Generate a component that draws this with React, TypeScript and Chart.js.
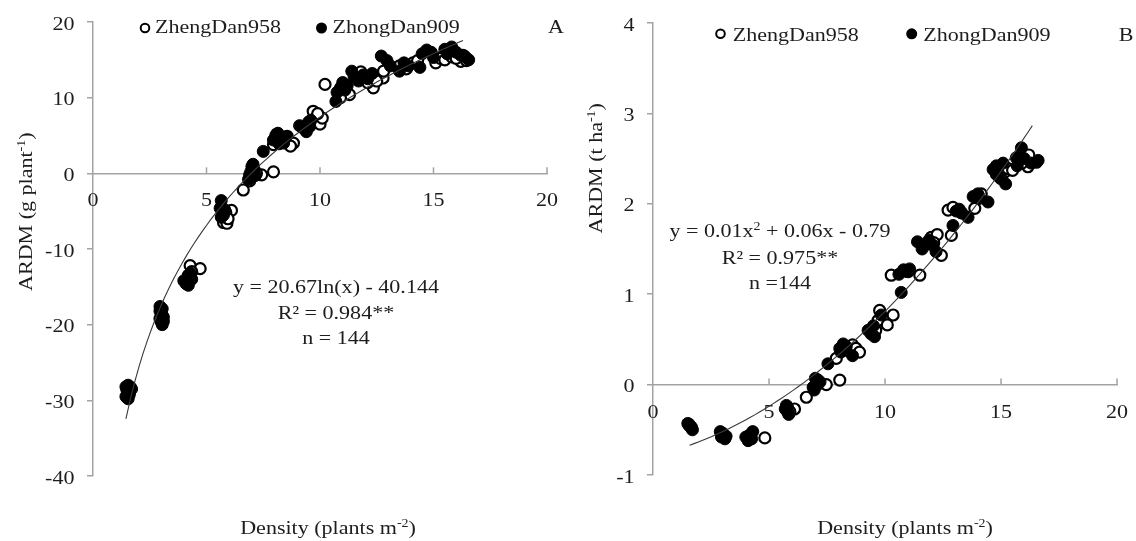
import React, { useEffect, useRef } from "react";
import { Chart, registerables } from "chart.js";

Chart.register(...registerables);

type Pair = [number, number];

// ---- Panel A: ARDM per plant (g plant-1) against planting density ----
const plantZhengDan958: Pair[] = [
  [1.5, -28.6], [1.6, -29.2], [1.65, -28.3], [1.5, -29.6],
  [3.0, -18.0], [3.1, -19.5], [3.05, -18.8], [2.95, -19.2],
  [4.28, -12.2], [4.72, -12.6], [4.35, -13.0], [4.2, -13.5],
  [6.1, -4.9], [5.75, -6.5], [5.9, -6.6], [5.85, -5.2], [5.95, -6.0],
  [6.62, -2.2], [7.43, -0.2], [7.95, 0.2], [7.2, 0.0], [6.9, -1.0],
  [7.95, 3.8], [8.55, 4.9], [8.83, 4.0], [8.3, 4.2], [8.1, 5.2], [8.7, 3.6],
  [9.7, 8.2], [9.8, 7.3], [10.0, 6.5], [10.1, 7.3], [9.9, 7.9], [9.5, 6.3],
  [10.22, 11.75], [11.3, 10.4], [10.9, 10.0], [11.0, 11.4],
  [11.8, 13.4], [12.35, 11.3], [12.78, 12.6], [12.8, 13.5], [12.1, 12.0], [12.5, 12.2],
  [13.8, 13.8], [14.1, 14.6], [13.5, 14.2], [14.3, 14.9],
  [15.1, 14.6], [15.3, 15.2], [15.5, 15.0], [15.8, 15.4], [16.2, 14.8], [16.45, 14.9], [16.0, 15.2], [16.3, 15.6],
];
const plantZhongDan909: Pair[] = [
  [1.45, -28.2], [1.55, -28.0], [1.5, -28.6], [1.6, -29.0], [1.45, -29.5], [1.55, -29.8], [1.7, -28.5],
  [2.95, -17.6], [3.05, -17.9], [3.0, -18.5], [3.1, -19.0], [3.0, -19.6], [3.05, -20.0], [2.95, -18.2],
  [4.0, -14.2], [4.1, -14.6], [4.2, -14.8], [4.25, -13.8], [4.3, -13.2], [4.35, -14.0],
  [5.65, -3.6], [5.6, -4.6], [5.7, -5.0], [5.75, -5.5], [5.8, -4.8], [5.65, -5.8],
  [6.85, -0.8], [6.95, 0.2], [7.0, 0.9], [7.1, 0.5], [7.15, -0.3], [7.05, 1.2], [6.9, -0.2],
  [7.5, 2.9],
  [7.95, 4.4], [8.05, 5.0], [8.15, 5.3], [8.3, 4.6], [8.4, 4.0], [8.5, 4.8], [8.2, 3.9],
  [9.1, 6.3], [9.25, 6.0], [9.4, 5.5], [9.5, 6.8], [9.6, 7.0], [9.55, 6.2],
  [10.7, 9.5], [10.75, 10.7], [10.9, 11.3], [11.0, 12.0], [11.1, 11.0], [11.2, 11.6],
  [11.4, 13.5], [11.5, 12.8], [11.7, 12.2], [11.9, 13.0], [12.1, 12.5], [12.3, 13.2],
  [12.7, 15.5], [12.95, 14.9], [13.1, 14.2], [13.5, 13.5], [13.7, 14.6], [13.9, 14.2],
  [14.4, 14.0], [14.5, 15.8], [14.7, 16.3], [14.9, 16.0], [15.0, 15.3],
  [15.5, 16.4], [15.6, 15.8], [15.8, 16.7], [16.0, 16.0], [16.2, 15.6], [16.4, 15.4], [16.55, 15.0],
];

// ---- Panel B: ARDM per area (t ha-1) against planting density ----
const areaZhengDan958: Pair[] = [
  [1.55, -0.44], [1.65, -0.47],
  [3.0, -0.54], [3.1, -0.58],
  [4.82, -0.59], [4.2, -0.6],
  [6.1, -0.27], [5.9, -0.3],
  [6.61, -0.14], [7.47, 0.0], [8.05, 0.05], [7.1, 0.05],
  [7.9, 0.29], [8.6, 0.44], [8.75, 0.4], [8.9, 0.36], [8.3, 0.38],
  [9.77, 0.82], [9.7, 0.71], [10.1, 0.66], [10.35, 0.77], [9.6, 0.6],
  [10.27, 1.21], [11.5, 1.21], [11.0, 1.25],
  [12.0, 1.63], [12.25, 1.66], [12.43, 1.43], [12.86, 1.65], [12.1, 1.57],
  [12.72, 1.93], [12.93, 1.96], [13.87, 1.95], [14.15, 2.11], [13.3, 1.9],
  [15.16, 2.35], [15.3, 2.39], [15.5, 2.37], [15.0, 2.28], [14.8, 2.33],
  [16.16, 2.41], [16.52, 2.46], [16.2, 2.54], [15.9, 2.45],
];
const areaZhongDan909: Pair[] = [
  [1.5, -0.43], [1.6, -0.46], [1.7, -0.5], [1.55, -0.45], [1.65, -0.48],
  [2.9, -0.52], [3.0, -0.55], [3.1, -0.6], [3.15, -0.57], [2.95, -0.58],
  [4.0, -0.58], [4.1, -0.62], [4.25, -0.6], [4.3, -0.52], [4.15, -0.56],
  [5.75, -0.23], [5.8, -0.3], [5.7, -0.27], [5.85, -0.33], [5.8, -0.25],
  [6.9, -0.03], [7.0, 0.07], [7.1, 0.0], [7.2, 0.03], [6.95, -0.06],
  [7.54, 0.23],
  [8.05, 0.4], [8.2, 0.45], [8.33, 0.42], [8.6, 0.32], [8.1, 0.36],
  [9.27, 0.6], [9.4, 0.56], [9.55, 0.53], [9.84, 0.77], [9.5, 0.65],
  [10.7, 1.02], [10.6, 1.22], [10.8, 1.27], [10.95, 1.25], [11.06, 1.28],
  [11.4, 1.58], [11.6, 1.5], [11.78, 1.55], [12.07, 1.54], [12.2, 1.47], [11.9, 1.6],
  [12.93, 1.76], [13.07, 1.92], [13.3, 1.9], [13.58, 1.85], [13.2, 1.94],
  [13.8, 2.08], [14.08, 2.06], [14.44, 2.02], [14.0, 2.11],
  [14.66, 2.38], [14.8, 2.42], [15.09, 2.45], [14.9, 2.3], [15.2, 2.22],
  [15.66, 2.51], [15.7, 2.42], [15.88, 2.62], [16.0, 2.5], [16.6, 2.48], [16.3, 2.45],
];

const densityTicks = [0, 5, 10, 15, 20];
const plantTicks = [-40, -30, -20, -10, 0, 10, 20];
const areaTicks = [-1, 0, 1, 2, 3, 4];
const seriesNames = ["ZhengDan958", "ZhongDan909"];

// Fitted curves with the coefficients printed in each panel
const logFit = { slope: 20.67, intercept: -40.144, from: 1.45, to: 16.3 };
const quadFit = { a: 0.01, b: 0.06, c: -0.79, from: 1.58, to: 16.35 };

type Run = { t: string; sup?: boolean };

const plantEquation: Run[][] = [
  [{ t: "y = 20.67ln(x) - 40.144" }],
  [{ t: "R² = 0.984**" }],
  [{ t: "n = 144" }],
];
const areaEquation: Run[][] = [
  [{ t: "y = 0.01x" }, { t: "2", sup: true }, { t: " + 0.06x - 0.79" }],
  [{ t: "R² = 0.975**" }],
  [{ t: "n =144" }],
];
const xTitle: Run[] = [{ t: "Density (plants m" }, { t: "-2", sup: true }, { t: ")" }];
const plantYTitle: Run[] = [{ t: "ARDM (g plant" }, { t: "-1", sup: true }, { t: ")" }];
const areaYTitle: Run[] = [{ t: "ARDM (t ha" }, { t: "-1", sup: true }, { t: ")" }];

const INK = "#1d1d1d";
const AXIS = "#a3a3a3";
const FONT = '"Liberation Serif", "Times New Roman", serif';
const STRETCH = 1.16;

function drawRuns(
  ctx: CanvasRenderingContext2D,
  runs: Run[],
  x: number,
  y: number,
  size: number,
  align: "left" | "center" | "right",
  rotated = false
) {
  ctx.save();
  ctx.translate(x, y);
  if (rotated) ctx.rotate(-Math.PI / 2);
  ctx.scale(STRETCH, 1);
  const supSize = Math.round(size * 0.62);
  let total = 0;
  const widths = runs.map((r) => {
    ctx.font = `${r.sup ? supSize : size}px ${FONT}`;
    const w = ctx.measureText(r.t).width;
    total += w;
    return w;
  });
  let cx = align === "center" ? -total / 2 : align === "right" ? -total : 0;
  ctx.fillStyle = INK;
  ctx.textAlign = "left";
  ctx.textBaseline = "alphabetic";
  runs.forEach((r, i) => {
    ctx.font = `${r.sup ? supSize : size}px ${FONT}`;
    ctx.fillText(r.t, cx, r.sup ? -size * 0.36 : 0);
    cx += widths[i];
  });
  ctx.restore();
}

interface PanelSpec {
  width: number;
  open: Pair[];
  filled: Pair[];
  yMin: number;
  yMax: number;
  yTicks: number[];
  fit: (x: number) => number;
  fitFrom: number;
  fitTo: number;
  yAxisWidth: number;
  padding: { left: number; right: number; top: number; bottom: number };
  legend: { openX: number; filledX: number; markerY: number; openTextX: number; filledTextX: number; textY: number };
  letter: { text: string; x: number; y: number };
  equation: { lines: Run[][]; x: number; baselines: number[] };
  xTitlePos: { x: number; y: number };
  yTitle: { runs: Run[]; x: number; y: number };
}

function curvePoints(f: (x: number) => number, from: number, to: number) {
  const n = 80;
  return Array.from({ length: n }, (_, i) => {
    const x = from + ((to - from) * i) / (n - 1);
    return { x, y: f(x) };
  });
}

function Panel({ spec }: { spec: PanelSpec }) {
  const ref = useRef<HTMLCanvasElement | null>(null);
  useEffect(() => {
    const canvas = ref.current;
    if (!canvas) return;

    const decorations = {
      id: "panelDecorations",
      beforeDatasetsDraw(chart: any) {
        const ctx: CanvasRenderingContext2D = chart.ctx;
        const xs = chart.scales.x;
        const ys = chart.scales.y;
        const y0 = ys.getPixelForValue(0);
        ctx.save();
        // x tick marks pointing up from the zero line
        ctx.strokeStyle = AXIS;
        ctx.lineWidth = 1.5;
        densityTicks.forEach((v) => {
          if (v === 0) return;
          const px = xs.getPixelForValue(v);
          ctx.beginPath();
          ctx.moveTo(px, y0);
          ctx.lineTo(px, y0 - 6);
          ctx.stroke();
        });
        ctx.restore();
        // tick labels
        densityTicks.forEach((v) => {
          drawRuns(ctx, [{ t: String(v) }], xs.getPixelForValue(v), y0 + 33, 19, "center");
        });
        spec.yTicks.forEach((v) => {
          drawRuns(ctx, [{ t: String(v) }], chart.chartArea.left - 18.5, ys.getPixelForValue(v) + 7.5, 19, "right");
        });
      },
      afterDatasetsDraw(chart: any) {
        const ctx: CanvasRenderingContext2D = chart.ctx;
        const L = spec.legend;
        // legend markers
        ctx.save();
        ctx.beginPath();
        ctx.arc(L.openX, L.markerY, 4.3, 0, Math.PI * 2);
        ctx.fillStyle = "#fff";
        ctx.fill();
        ctx.lineWidth = 2;
        ctx.strokeStyle = "#000";
        ctx.stroke();
        ctx.beginPath();
        ctx.arc(L.filledX, L.markerY, 5.5, 0, Math.PI * 2);
        ctx.fillStyle = "#000";
        ctx.fill();
        ctx.restore();
        drawRuns(ctx, [{ t: seriesNames[0] }], L.openTextX, L.textY, 19, "left");
        drawRuns(ctx, [{ t: seriesNames[1] }], L.filledTextX, L.textY, 19, "left");
        drawRuns(ctx, [{ t: spec.letter.text }], spec.letter.x, spec.letter.y, 19, "center");
        spec.equation.lines.forEach((line, i) => {
          drawRuns(ctx, line, spec.equation.x, spec.equation.baselines[i], 19, "center");
        });
        drawRuns(ctx, xTitle, spec.xTitlePos.x, spec.xTitlePos.y, 19, "center");
        drawRuns(ctx, spec.yTitle.runs, spec.yTitle.x, spec.yTitle.y, 19, "center", true);
      },
    };

    const chart = new Chart(canvas, {
      type: "scatter",
      data: {
        datasets: [
          {
            label: "fit",
            data: curvePoints(spec.fit, spec.fitFrom, spec.fitTo),
            showLine: true,
            pointRadius: 0,
            borderColor: "#3a3a3a",
            borderWidth: 1.1,
            order: 0,
          },
          {
            label: seriesNames[1],
            data: spec.filled.map(([x, y]) => ({ x, y })),
            pointRadius: 6,
            pointBackgroundColor: "#000",
            pointBorderColor: "#000",
            pointBorderWidth: 1,
            order: 1,
          },
          {
            label: seriesNames[0],
            data: spec.open.map(([x, y]) => ({ x, y })),
            pointRadius: 5.5,
            pointBackgroundColor: "#fff",
            pointBorderColor: "#000",
            pointBorderWidth: 2.2,
            order: 2,
          },
        ],
      },
      options: {
        animation: false,
        responsive: false,
        events: [],
        layout: { padding: spec.padding },
        plugins: { legend: { display: false }, tooltip: { enabled: false } },
        scales: {
          x: {
            type: "linear",
            min: 0,
            max: 20,
            position: { y: 0 } as any,
            afterBuildTicks: (s: any) => {
              s.ticks = densityTicks.map((value) => ({ value }));
            },
            ticks: { display: false },
            grid: { drawOnChartArea: false, drawTicks: false },
            border: { display: true, color: AXIS, width: 1.5 },
          },
          y: {
            type: "linear",
            position: "left",
            min: spec.yMin,
            max: spec.yMax,
            afterBuildTicks: (s: any) => {
              s.ticks = spec.yTicks.map((value) => ({ value }));
            },
            afterFit: (s: any) => {
              s.width = spec.yAxisWidth;
            },
            ticks: { display: false },
            grid: { drawOnChartArea: false, drawTicks: true, tickLength: 6, color: AXIS, lineWidth: 1.5 },
            border: { display: true, color: AXIS, width: 1.5 },
          },
        },
      },
      plugins: [decorations],
    });
    return () => chart.destroy();
  }, [spec]);

  return <canvas ref={ref} width={spec.width} height={541} style={{ display: "block" }} />;
}

const plantPanel: PanelSpec = {
  width: 570,
  open: plantZhengDan958,
  filled: plantZhongDan909,
  yMin: -40,
  yMax: 20,
  yTicks: plantTicks,
  fit: (x) => logFit.slope * Math.log(x) + logFit.intercept,
  fitFrom: logFit.from,
  fitTo: logFit.to,
  yAxisWidth: 93,
  padding: { left: 0, right: 23, top: 22, bottom: 65 },
  legend: { openX: 145, filledX: 321.5, markerY: 28, openTextX: 155, filledTextX: 332.5, textY: 33.3 },
  letter: { text: "A", x: 556, y: 33.3 },
  equation: { lines: plantEquation, x: 336, baselines: [293.3, 318.8, 344.3] },
  xTitlePos: { x: 328, y: 534 },
  yTitle: { runs: plantYTitle, x: 31.5, y: 211.7 },
};

const areaPanel: PanelSpec = {
  width: 566,
  open: areaZhengDan958,
  filled: areaZhongDan909,
  yMin: -1,
  yMax: 4,
  yTicks: areaTicks,
  fit: (x) => quadFit.a * x * x + quadFit.b * x + quadFit.c,
  fitFrom: quadFit.from,
  fitTo: quadFit.to,
  yAxisWidth: 83,
  padding: { left: 0, right: 19, top: 23, bottom: 66 },
  legend: { openX: 150.5, filledX: 341.7, markerY: 33.8, openTextX: 162.7, filledTextX: 353.3, textY: 40.7 },
  letter: { text: "B", x: 556, y: 40.7 },
  equation: { lines: areaEquation, x: 210, baselines: [237, 263.5, 289] },
  xTitlePos: { x: 335, y: 534 },
  yTitle: { runs: areaYTitle, x: 32, y: 168.3 },
};

export default function App() {
  return (
    <div style={{ position: "absolute", left: 0, top: 0, width: 1136, height: 541, background: "#fff", display: "flex" }}>
      <Panel spec={plantPanel} />
      <Panel spec={areaPanel} />
    </div>
  );
}
